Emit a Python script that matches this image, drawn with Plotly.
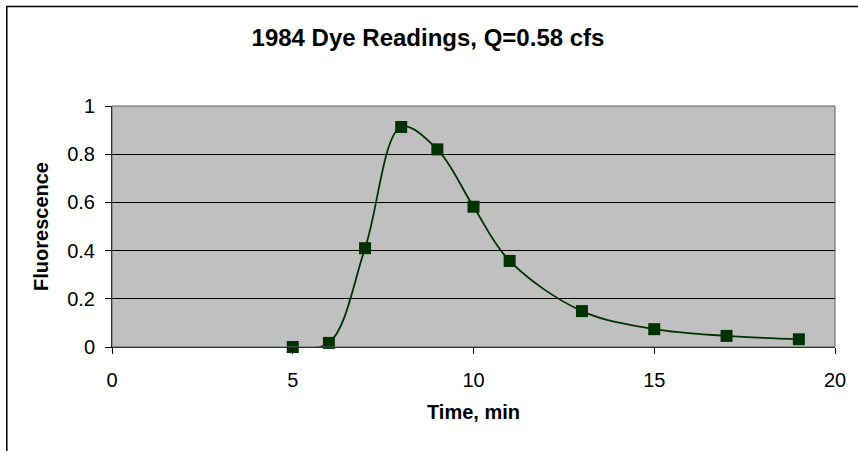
import plotly.graph_objects as go

# Dye tracer readings
time_min = [5, 6, 7, 8, 9, 10, 11, 13, 15, 17, 19]
fluorescence = [0.0, 0.017, 0.41, 0.913, 0.82, 0.582, 0.357, 0.149, 0.074, 0.046, 0.032]

x_ticks = [0, 5, 10, 15, 20]
y_ticks = [0, 0.2, 0.4, 0.6, 0.8, 1]

W, H = 858, 451
ML, MR, MT, MB = 112, 21, 106, 104
PW, PH = W - ML - MR, H - MT - MB

DARK_GREEN = "#003300"
FONT = "Liberation Sans, Arial, sans-serif"


def px_to_paper_x(px):
    return (px - ML) / PW


def px_to_paper_y(py):
    return (H - MB - py) / PH


fig = go.Figure(
    go.Scatter(
        x=time_min,
        y=fluorescence,
        mode="lines+markers",
        line=dict(color=DARK_GREEN, width=1.8, shape="spline", smoothing=1.0),
        marker=dict(symbol="square", size=12, color=DARK_GREEN,
                    line=dict(width=0)),
        cliponaxis=False,
        showlegend=False,
        hoverinfo="x+y",
    )
)

fig.update_layout(
    width=W,
    height=H,
    margin=dict(l=ML, r=MR, t=MT, b=MB, pad=0),
    paper_bgcolor="white",
    plot_bgcolor="#C0C0C0",
    font=dict(family=FONT, size=20, color="black"),
    title=dict(
        text="<b>1984 Dye Readings, Q=0.58 cfs</b>",
        font=dict(family=FONT, size=24, color="black"),
        x=428 / W,
        xref="container",
        xanchor="center",
        y=1 - 38 / H,
        yref="container",
        yanchor="middle",
    ),
    xaxis=dict(
        range=[0, 20],
        tickvals=x_ticks,
        ticktext=[str(v) for v in x_ticks],
        ticks="outside",
        ticklen=6,
        tickwidth=1,
        tickcolor="black",
        showline=True,
        linecolor="black",
        linewidth=1,
        showgrid=False,
        zeroline=False,
        ticklabelstandoff=9,
        tickfont=dict(family=FONT, size=20),
        title=dict(text="<b>Time, min</b>", font=dict(family=FONT, size=20),
                   standoff=14),
    ),
    yaxis=dict(
        range=[0, 1],
        tickvals=y_ticks,
        ticktext=["0", "0.2", "0.4", "0.6", "0.8", "1"],
        ticks="outside",
        ticklen=6,
        tickwidth=1,
        tickcolor="black",
        showline=True,
        linecolor="black",
        linewidth=1,
        showgrid=True,
        gridcolor="black",
        gridwidth=1,
        zeroline=False,
        ticklabelstandoff=6,
        tickfont=dict(family=FONT, size=20),
        title=dict(text="<b>Fluorescence</b>", font=dict(family=FONT, size=20),
                   standoff=13),
    ),
    shapes=[
        # plot area frame
        dict(type="rect", xref="paper", yref="paper", x0=0, y0=0, x1=1, y1=1,
             line=dict(color="#606060", width=1), layer="above"),
        # chart area frame (runs past the right and bottom edges)
        dict(type="rect", xref="paper", yref="paper",
             x0=px_to_paper_x(6.5), y0=px_to_paper_y(H + 20),
             x1=px_to_paper_x(W + 20), y1=px_to_paper_y(6.5),
             line=dict(color="black", width=1.5), layer="above"),
    ],
)

fig.write_html("out.html")
